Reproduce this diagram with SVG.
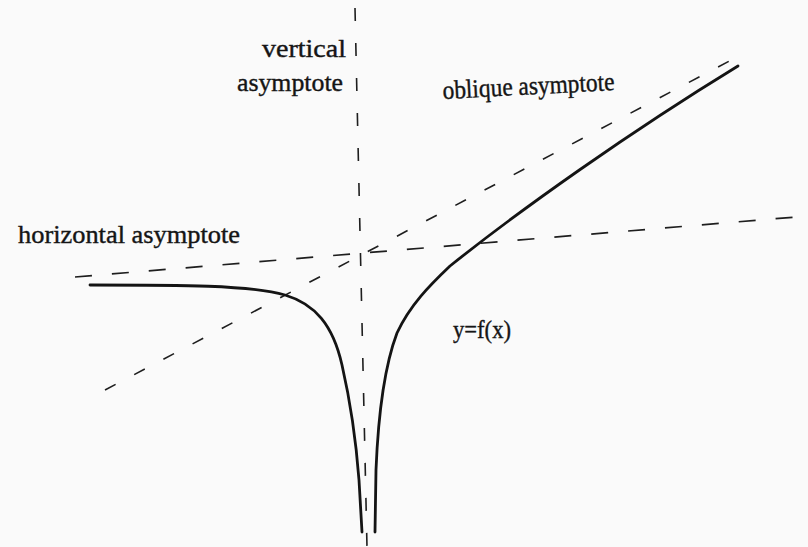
<svg xmlns="http://www.w3.org/2000/svg" width="808" height="547" viewBox="0 0 808 547">
  <style>
    .lbl { font-family: "Liberation Serif", "Times New Roman", serif; font-size: 26px; fill: #151515; stroke: #151515; stroke-width: 0.4; }
    .asym { fill: none; stroke: #1e1e1e; }
    .curve { fill: none; stroke: #141414; stroke-width: 2.8; stroke-linecap: round; stroke-linejoin: round; }
  </style>
  <rect width="808" height="547" fill="#fafafa"/>
  <g id="connectors">
    <line id="vertical-asymptote" class="asym" x1="355" y1="8" x2="367" y2="547" stroke-width="1.6" stroke-dasharray="13 22"/>
    <line id="horizontal-asymptote" class="asym" x1="75" y1="277" x2="808" y2="216" stroke-width="1.7" stroke-dasharray="17 20"/>
    <line id="oblique-asymptote" class="asym" x1="105" y1="390" x2="737" y2="57" stroke-width="1.6" stroke-dasharray="12 21"/>
  </g>
  <g id="graph">
    <path id="left-branch" class="curve" d="M90,285 C180,285 250,285 285,295 C315,304 333,325 342,365 C350,400 356,440 359,480 L362,532"/>
    <path id="right-branch" class="curve" d="M375,532 L376,470 C378,420 383,370 397,333 C410,305 430,285 450,266 C520,210 630,132 738,66"/>
  </g>
  <g id="label-vertical">
    <text class="lbl" x="262" y="57" textLength="84" lengthAdjust="spacingAndGlyphs">vertical</text>
    <text class="lbl" x="237" y="91" textLength="106" lengthAdjust="spacingAndGlyphs">asymptote</text>
  </g>
  <g id="label-oblique">
    <text class="lbl" x="443" y="99" textLength="172" lengthAdjust="spacingAndGlyphs" transform="rotate(-3 443 99)">oblique asymptote</text>
  </g>
  <g id="label-horizontal">
    <text class="lbl" x="18" y="243" textLength="222" lengthAdjust="spacingAndGlyphs">horizontal asymptote</text>
  </g>
  <g id="label-function">
    <text class="lbl" x="453" y="338" font-size="24" textLength="58" lengthAdjust="spacingAndGlyphs">y=f(x)</text>
  </g>
</svg>
